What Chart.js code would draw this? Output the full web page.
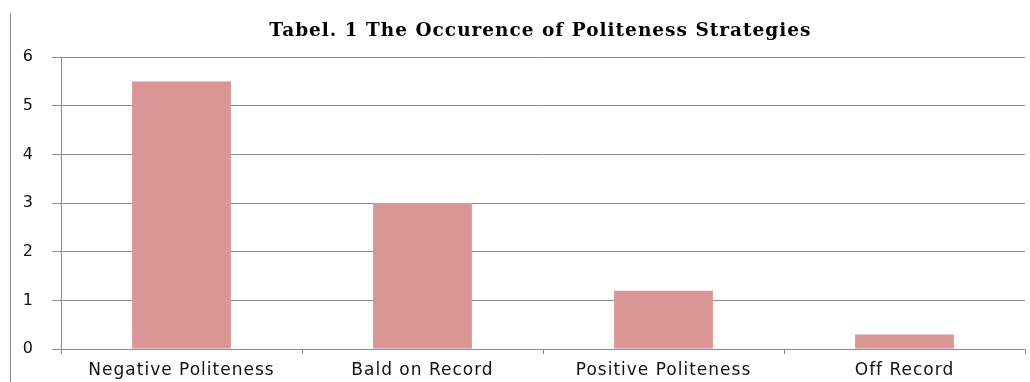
<!DOCTYPE html>
<html>
<head>
<meta charset="utf-8">
<script src="https://cdn.jsdelivr.net/npm/chart.js@4"></script>
<style>
  body { margin: 0; background: #fff; }
  #wrap { position: relative; width: 1030px; height: 382px; }
  #edge { position: absolute; left: 10px; top: 13px; width: 1px; height: 369px; background: #8c8c8c; }
</style>
</head>
<body>
<div id="wrap">
  <div id="edge"></div>
  <canvas id="chart" width="1030" height="382"></canvas>
</div>
<script>
// 資料
const categories = ['Negative Politeness', 'Bald on Record', 'Positive Politeness', 'Off Record'];
const values = [5.5, 3, 1.2, 0.3];
const yTicks = [0, 1, 2, 3, 4, 5, 6];

const gridColor = '#8a8a8a';

// 文字稍微拉寬一點
const spacingPlugin = {
    id: 'spacing',
    beforeInit: function (chart) { chart.ctx.letterSpacing = '1px'; },
    beforeDraw: function (chart) { chart.ctx.letterSpacing = '1px'; }
};

const ctx = document.getElementById('chart').getContext('2d');
new Chart(ctx, {
    type: 'bar',
    data: {
        labels: categories,
        datasets: [{
            data: values,
            backgroundColor: '#d99694',
            borderWidth: 0,
            barPercentage: 0.41,
            categoryPercentage: 1
        }]
    },
    plugins: [spacingPlugin],
    options: {
        responsive: false,
        animation: false,
        layout: { padding: { left: 11, right: 5, top: 0, bottom: 0 } },
        plugins: {
            legend: { display: false },
            tooltip: { enabled: false },
            title: {
                display: true,
                // 前面的空白讓標題往右移一點
                text: '\u00a0\u00a0\u00a0\u00a0\u00a0\u00a0Tabel. 1 The Occurence of Politeness Strategies',
                color: '#000',
                font: { family: 'DejaVu Serif', size: 18.5, weight: 'bold' },
                padding: { top: 20, bottom: 15 }
            }
        },
        scales: {
            x: {
                grid: { display: true, drawOnChartArea: false, color: gridColor, tickLength: 5 },
                border: { color: gridColor },
                ticks: { color: '#111', font: { family: 'DejaVu Sans', size: 17 }, padding: 6 },
                afterFit: function (scale) { scale.height = 33; }
            },
            y: {
                min: 0,
                max: 6,
                afterBuildTicks: function (scale) { scale.ticks = yTicks.map(v => ({ value: v })); },
                grid: { color: gridColor, tickLength: 9 },
                border: { color: gridColor },
                ticks: { color: '#111', font: { family: 'DejaVu Sans', size: 16 }, padding: 18 },
                afterFit: function (scale) { scale.width = 50; }
            }
        }
    }
});
</script>
</body>
</html>
